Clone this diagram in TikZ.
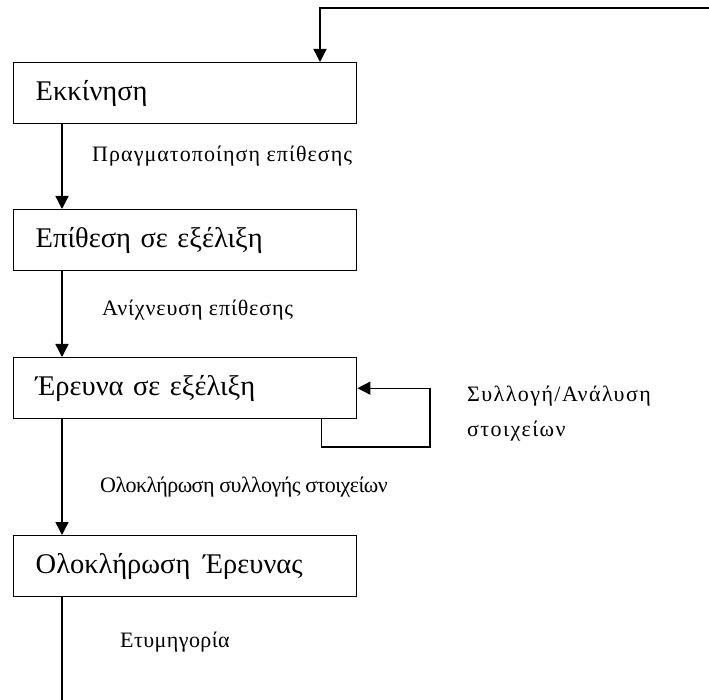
\documentclass[tikz,border=0pt]{standalone}
\usepackage{fontspec}
\setmainfont{Liberation Serif}
\usetikzlibrary{arrows.meta}
\newcommand{\trk}[1]{\addfontfeatures{LetterSpace=#1}}
\begin{document}
\begin{tikzpicture}[x=1pt,y=-1pt,
  state/.style={draw, line width=1.4pt, rectangle, minimum width=343pt, minimum height=61pt,
    text width=299pt, inner xsep=22pt, inner ysep=0pt, align=left,
    text height=21pt, text depth=7pt,
    font=\fontsize{28.5}{32}\selectfont, anchor=north west},
  lbl/.style={anchor=west, inner sep=0pt, font=\fontsize{22}{35}\selectfont},
  arr/.style={line width=1.4pt, -{Triangle[length=13pt,width=13pt]}},
  ln/.style={line width=1.4pt}]
\useasboundingbox (0,0) rectangle (709,700);

\node[state] (b1) at (13,62) {Εκκίνηση};
\node[state] (b2) at (13,209) {Επίθεση σε εξέλιξη};
\node[state] (b3) at (13,357) {Έρευνα σε εξέλιξη};
\node[state] (b4) at (13,535) {Ολοκλήρωση\hspace{13pt}Έρευνας};

\node[lbl] (l1) at (92,156) {\trk{4.8}Πραγματοποίηση επίθεσης};
\node[lbl] (l2) at (102,310) {\trk{4}Ανίχνευση επίθεσης};
\node[lbl, align=left] (l3) at (467,414) {\trk{6.5}Συλλογή/Ανάλυση\\\trk{6.5}στοιχείων};
\node[lbl] (l4) at (100,487) {\trk{-2.6}Ολοκλήρωση συλλογής στοιχείων};
\node[lbl] (l5) at (120,642) {\trk{2}Ετυμηγορία};

% feedback line entering from the right edge
\coordinate (topR) at (709,8);
\coordinate (topL) at (320,8);
\draw[arr] (topR) -- (topL) -- (topL |- b1.north);

% main chain of states
\draw[arr] ([xshift=49pt]b1.south west) -- ([xshift=49pt]b2.north west);
\draw[arr] ([xshift=49pt]b2.south west) -- ([xshift=49pt]b3.north west);
\draw[arr] ([xshift=49pt]b3.south west) -- ([xshift=49pt]b4.north west);

% self loop on the investigation state
\coordinate (lp) at (430,447);
\draw[arr] ([xshift=-36pt]b3.south east) |- (lp) |- (b3.east);

% outgoing line at the bottom
\coordinate (bot) at (62,700);
\draw[ln] ([xshift=49pt]b4.south west) -- (bot);
\end{tikzpicture}
\end{document}
